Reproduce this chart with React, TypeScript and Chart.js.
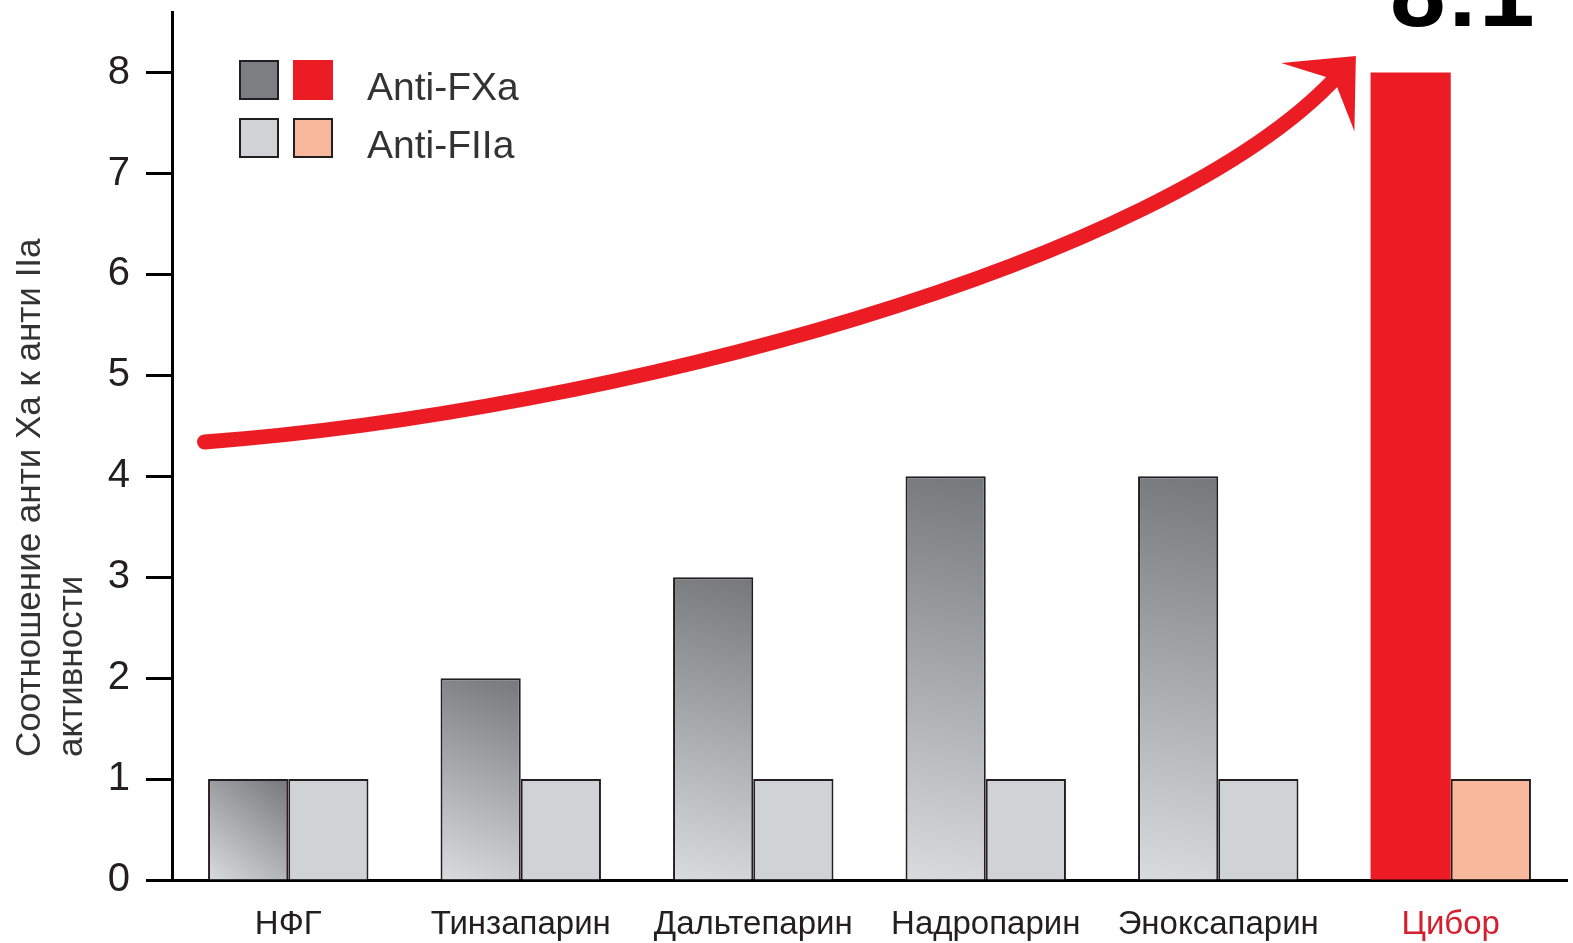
import React, { useEffect, useRef } from "react";
import { Chart, registerables } from "chart.js";

Chart.register(...registerables);

const categories = ["НФГ", "Тинзапарин", "Дальтепарин", "Надропарин", "Эноксапарин", "Цибор"];
const antiFXa = [1, 2, 3, 4, 4, 8];
const antiFIIa = [1, 1, 1, 1, 1, 1];
const seriesNames = ["Anti-FXa", "Anti-FIIa"];
const yTickValues = [0, 1, 2, 3, 4, 5, 6, 7, 8];
const yMax = 8.6;
const ratioLabel = "8:1";
const highlightIndex = 5;
const yTitleLines = ["Соотношение анти Ха к анти IIa", "активности"];
// arrow path in data coordinates: [category index, value] for a cubic bezier
const arrowPath = [
  [-0.36, 4.34],
  [1.38, 4.64],
  [3.76, 6.1],
  [4.51, 7.96],
];

const RED = "#ec1c24";
const PEACH = "#f8b89b";
const LIGHT = "#d1d2d4";
const DARK_TXT = "#231f20";
const CAT_PCT = 0.69;

const FONT = "'Liberation Sans', Arial, sans-serif";

function grayGradient(c: any) {
  const chart = c.chart;
  const xs = chart.scales?.x;
  const ys = chart.scales?.y;
  const i = c.dataIndex;
  if (i === highlightIndex) return RED;
  if (!xs || !ys || !chart.chartArea || i === undefined) return "#9c9da0";
  const cw = xs.width / categories.length;
  const bw = (cw * CAT_PCT) / 2;
  const cx = xs.getPixelForValue(i);
  const left = cx - bw;
  const right = cx;
  const top = ys.getPixelForValue(antiFXa[i]);
  const bottom = ys.getPixelForValue(0);
  const g = chart.ctx.createLinearGradient(right, top, left, bottom);
  g.addColorStop(0, "#76777a");
  g.addColorStop(1, "#dadbdd");
  return g;
}

const decorPlugin = {
  id: "decor",
  afterDatasetsDraw(chart: any) {
    const { ctx, scales } = chart;
    const xs = scales.x;
    const ys = scales.y;
    const pts = arrowPath.map(([i, v]) => [xs.getPixelForValue(i), ys.getPixelForValue(v)]);
    ctx.save();
    ctx.strokeStyle = RED;
    ctx.fillStyle = RED;
    ctx.lineWidth = 15;
    ctx.lineCap = "round";
    ctx.beginPath();
    ctx.moveTo(pts[0][0], pts[0][1]);
    ctx.bezierCurveTo(pts[1][0], pts[1][1], pts[2][0], pts[2][1], pts[3][0], pts[3][1]);
    ctx.stroke();
    // arrow head
    const dx = pts[3][0] - pts[2][0];
    const dy = pts[3][1] - pts[2][1];
    const len = Math.hypot(dx, dy);
    const ux = dx / len;
    const uy = dy / len;
    const nx = -uy;
    const ny = ux;
    const tipX = pts[3][0] + ux * 28;
    const tipY = pts[3][1] + uy * 28;
    const L = 56;
    const W = 50;
    const notch = 32;
    ctx.beginPath();
    ctx.moveTo(tipX, tipY);
    ctx.lineTo(tipX - ux * L + nx * W, tipY - uy * L + ny * W);
    ctx.lineTo(tipX - ux * notch, tipY - uy * notch);
    ctx.lineTo(tipX - ux * L - nx * W, tipY - uy * L - ny * W);
    ctx.closePath();
    ctx.fill();
    ctx.restore();
  },
  afterDraw(chart: any) {
    const { ctx, scales } = chart;
    const xs = scales.x;
    const ys = scales.y;
    ctx.save();
    // big ratio label
    ctx.fillStyle = "#000";
    ctx.font = `bold 100px ${FONT}`;
    ctx.textAlign = "center";
    ctx.textBaseline = "alphabetic";
    ctx.fillText(ratioLabel, xs.getPixelForValue(highlightIndex + 0.05), ys.getPixelForValue(8.46));

    // legend
    const sq = 40;
    const rows = [
      { a: "#7d7e81", aBorder: true, b: RED, bBorder: false, label: seriesNames[0], y: 60 },
      { a: LIGHT, aBorder: true, b: PEACH, bBorder: true, label: seriesNames[1], y: 118 },
    ];
    ctx.font = `39px ${FONT}`;
    ctx.textAlign = "left";
    ctx.textBaseline = "middle";
    rows.forEach((r) => {
      ctx.fillStyle = r.a;
      ctx.fillRect(239, r.y, sq, sq);
      if (r.aBorder) {
        ctx.strokeStyle = DARK_TXT;
        ctx.lineWidth = 2;
        ctx.strokeRect(240, r.y + 1, sq - 2, sq - 2);
      }
      ctx.fillStyle = r.b;
      ctx.fillRect(293, r.y, sq, sq);
      if (r.bBorder) {
        ctx.strokeStyle = DARK_TXT;
        ctx.lineWidth = 2;
        ctx.strokeRect(294, r.y + 1, sq - 2, sq - 2);
      }
      ctx.fillStyle = "#333";
      ctx.fillText(r.label, 367, r.y + 29);
    });

    // y axis title (two lines, rotated, bottom aligned)
    ctx.font = `35px ${FONT}`;
    ctx.fillStyle = "#333";
    ctx.textAlign = "left";
    ctx.textBaseline = "middle";
    const xsLines = [30, 72];
    yTitleLines.forEach((line, k) => {
      ctx.save();
      ctx.translate(xsLines[k], 757);
      ctx.rotate(-Math.PI / 2);
      ctx.fillText(line, 0, 0);
      ctx.restore();
    });
    ctx.restore();
  },
};

export default function App() {
  const ref = useRef<HTMLCanvasElement | null>(null);
  useEffect(() => {
    document.body.style.margin = "0";
    const canvas = ref.current!;
    const chart = new Chart(canvas, {
      type: "bar",
      data: {
        labels: categories,
        datasets: [
          {
            label: seriesNames[0],
            data: antiFXa,
            backgroundColor: grayGradient as any,
            borderColor: DARK_TXT,
            borderWidth: antiFXa.map((_, i) => (i === highlightIndex ? 0 : 2)),
            borderSkipped: "bottom",
            categoryPercentage: CAT_PCT,
            barPercentage: 1,
          },
          {
            label: seriesNames[1],
            data: antiFIIa,
            backgroundColor: antiFIIa.map((_, i) => (i === highlightIndex ? PEACH : LIGHT)),
            borderColor: DARK_TXT,
            borderWidth: 2,
            borderSkipped: "bottom",
            categoryPercentage: CAT_PCT,
            barPercentage: 1,
          },
        ],
      },
      options: {
        responsive: false,
        animation: false,
        devicePixelRatio: 1,
        layout: { padding: { top: 12, right: 6, left: 0, bottom: 0 } },
        plugins: {
          legend: { display: false },
          tooltip: { enabled: false },
          title: { display: false },
        },
        scales: {
          x: {
            grid: { display: false, drawTicks: false },
            border: { display: true, color: "#000", width: 3 },
            ticks: {
              padding: 25,
              font: { family: FONT, size: 33 },
              color: (c: any) => (c.index === highlightIndex ? "#d2202f" : DARK_TXT),
              maxRotation: 0,
              autoSkip: false,
            },
            afterFit: (s: any) => {
              s.height = 63;
              s.paddingLeft = 0;
              s.paddingRight = 0;
            },
          },
          y: {
            min: 0,
            max: yMax,
            grid: {
              drawOnChartArea: false,
              drawTicks: true,
              tickLength: 26,
              tickWidth: 3,
              tickColor: "#000",
              color: "#000",
            },
            border: { display: true, color: "#000", width: 3 },
            ticks: {
              padding: 16,
              font: { family: FONT, size: 40 },
              color: DARK_TXT,
            },
            afterBuildTicks: (s: any) => {
              s.ticks = yTickValues.map((v) => ({ value: v }));
            },
            afterFit: (s: any) => {
              s.width = 172;
              s.paddingTop = 0;
              s.paddingBottom = 0;
            },
          },
        },
      },
      plugins: [decorPlugin],
    });
    return () => chart.destroy();
  }, []);
  return <canvas ref={ref} width={1573} height={943} style={{ display: "block", width: 1573, height: 943 }} />;
}
